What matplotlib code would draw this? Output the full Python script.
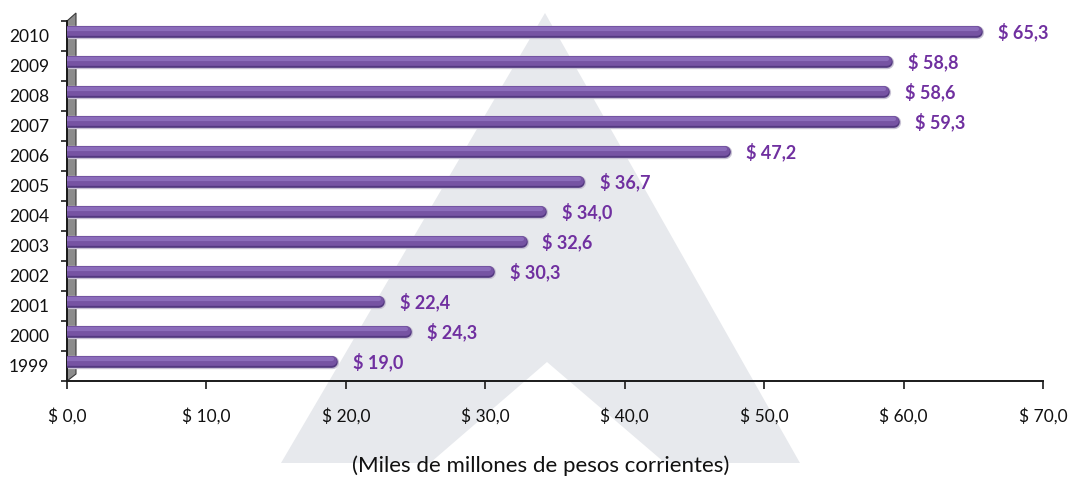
import matplotlib
matplotlib.use("Agg")
import matplotlib.pyplot as plt
from matplotlib.patches import Polygon
import numpy as np

# ---- data ----
years = ["1999", "2000", "2001", "2002", "2003", "2004", "2005", "2006", "2007", "2008", "2009", "2010"]
values = [19.0, 24.3, 22.4, 30.3, 32.6, 34.0, 36.7, 47.2, 59.3, 58.6, 58.8, 65.3]
x_ticks = [0, 10, 20, 30, 40, 50, 60, 70]
x_ticklabels = ["$ 0,0", "$ 10,0", "$ 20,0", "$ 30,0", "$ 40,0", "$ 50,0", "$ 60,0", "$ 70,0"]
xlabel = "(Miles de millones de pesos corrientes)"

W, H = 1071, 478
fig = plt.figure(figsize=(W / 100, H / 100), dpi=100)
fig.patch.set_facecolor("white")

# ---- background decoration (watermark + 3D wall), pixel coords ----
bg = fig.add_axes([0, 0, 1, 1], zorder=0)
bg.set_xlim(0, W)
bg.set_ylim(H, 0)
bg.axis("off")
bg.add_patch(Polygon([(545, 13), (281, 463), (800, 463)], closed=True,
                     facecolor="#E7E9ED", edgecolor="none"))
bg.add_patch(Polygon([(547, 362), (430, 463), (665, 463)], closed=True,
                     facecolor="white", edgecolor="none"))
# 3D side wall
bg.add_patch(Polygon([(67, 21), (76, 13), (76, 374), (67, 381)], closed=True,
                     facecolor="#8C8C8C", edgecolor="#3A3A3A", linewidth=0.8))

# ---- main axes ----
ax = fig.add_axes([67 / W, (H - 381) / H, 976 / W, 360 / H], zorder=1)
ax.set_facecolor("none")
ax.set_xlim(0, 70)
ax.set_ylim(-0.5, len(years) - 0.5)

ypos = np.arange(len(years))
bar_y = ypos + 0.15

# cylinder-like bars built from stacked rounded lines
shadow = ax.hlines(bar_y, 0, values, colors="#C8C2D4", linewidth=9.6, zorder=2)
dark = ax.hlines(bar_y, 0, values, colors="#533880", linewidth=8.4, zorder=3)
main = ax.hlines(bar_y + 0.02, 0, values, colors="#7653A3", linewidth=7.0, zorder=4)
hi = ax.hlines(bar_y + 0.07, 0, values, colors="#8B6CBA", linewidth=3.0, zorder=5)
for lc in (shadow, dark, main, hi):
    lc.set_capstyle("round")

for y, v in zip(bar_y, values):
    ax.annotate(f"$ {v:.1f}".replace(".", ","), xy=(v, y), xytext=(15, 0),
                textcoords="offset points", ha="left", va="center",
                fontsize=13, fontweight="bold", color="#7030A0",
                family="Lato", zorder=6)

# axes styling
for s in ("top", "right"):
    ax.spines[s].set_visible(False)
ax.spines["left"].set_color("#1A1A1A")
ax.spines["left"].set_linewidth(1.4)
ax.spines["bottom"].set_color("#1A1A1A")
ax.spines["bottom"].set_linewidth(1.4)

ax.set_yticks(ypos)
ax.set_yticklabels(years, family="Lato", fontsize=12.5, color="#111111")
ax.set_yticks(np.arange(len(years) + 1) - 0.5, minor=True)
ax.tick_params(axis="y", which="major", length=0, pad=13)
ax.tick_params(axis="y", which="minor", length=4, width=1.2, color="#1A1A1A", direction="out")

ax.set_xticks(x_ticks)
ax.set_xticklabels(x_ticklabels, family="Lato", fontsize=12.5, color="#111111")
ax.tick_params(axis="x", which="major", length=6, width=1.2, color="#1A1A1A",
               direction="out", pad=13)

fig.text(541 / W, 1 - 466 / H, xlabel, ha="center", va="center",
         family="Lato", fontsize=16, color="#111111")

fig.savefig("out.png", dpi=100, facecolor="white")
